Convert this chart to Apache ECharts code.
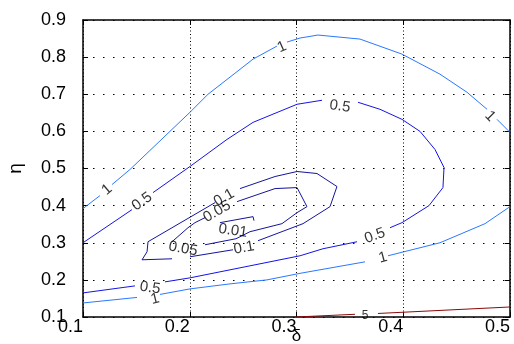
<!DOCTYPE html>
<html>
<head>
<meta charset="utf-8">
<script src="https://cdn.jsdelivr.net/npm/echarts@6/dist/echarts.min.js"></script>
<style>html,body{margin:0;padding:0;background:#fff;}#c{width:514px;height:344px;}</style>
</head>
<body>
<div id="c"></div>
<script>
// ---- tick labels ----
const xTickLabels = ['0.1', '0.2', '0.3', '0.4', '0.5'];
const yTickLabels = ['0.1', '0.2', '0.3', '0.4', '0.5', '0.6', '0.7', '0.8', '0.9'];
const xName = 'δ';
const yName = 'η';

// ---- contour levels (segments split where inline labels sit) ----
const level1Segments = [
  [[0.1, 0.392], [0.1159, 0.427]],
  [[0.1272, 0.4568], [0.144, 0.4973], [0.2002, 0.6514], [0.2171, 0.7], [0.2593, 0.7946], [0.2817, 0.8297]],
  [[0.2911, 0.8405], [0.3033, 0.8514], [0.3201, 0.8595], [0.3595, 0.8486], [0.3988, 0.8081], [0.4344, 0.7541], [0.4597, 0.7054], [0.4785, 0.6595]],
  [[0.4878, 0.6324], [0.5, 0.5973]],
  [[0.1, 0.1378], [0.1506, 0.1527]],
  [[0.1721, 0.1608], [0.2002, 0.1757], [0.2377, 0.1892], [0.2724, 0.2], [0.3033, 0.2176], [0.3642, 0.2486]],
  [[0.3857, 0.2649], [0.4344, 0.3], [0.4766, 0.3514], [0.5, 0.3973]]
];
const level05Segments = [
  [[0.1, 0.3], [0.1459, 0.3892]],
  [[0.1656, 0.4351], [0.2002, 0.5054], [0.2349, 0.5784], [0.2593, 0.6243], [0.2845, 0.6541], [0.3005, 0.673], [0.3239, 0.6838]],
  [[0.3576, 0.6784], [0.3782, 0.6595], [0.3988, 0.6324], [0.4157, 0.6], [0.4297, 0.5514], [0.4382, 0.5027], [0.4372, 0.4486], [0.4241, 0.4], [0.3988, 0.3541], [0.3876, 0.3405]],
  [[0.3567, 0.3027], [0.3248, 0.2838], [0.3033, 0.2649], [0.2564, 0.2378], [0.2283, 0.2216], [0.2002, 0.2054], [0.1768, 0.1946]],
  [[0.1487, 0.1838], [0.1, 0.1649]]
];
const level01Segments = [
  [[0.2471, 0.4459], [0.2799, 0.4784], [0.3005, 0.4919], [0.3192, 0.4865], [0.3379, 0.4514], [0.3314, 0.3973], [0.3061, 0.3514], [0.2639, 0.3054]],
  [[0.2405, 0.2811], [0.2002, 0.2622]],
  [[0.1834, 0.2568], [0.1553, 0.2541], [0.16, 0.2757], [0.1609, 0.3027], [0.2237, 0.4081]]
];
const level005Segments = [
  [[0.2443, 0.4108], [0.2799, 0.4459], [0.3005, 0.4486], [0.3098, 0.3973], [0.3005, 0.3811], [0.2864, 0.3514], [0.2564, 0.3297], [0.2433, 0.3108], [0.2143, 0.2946]],
  [[0.1834, 0.3027], [0.1984, 0.3405], [0.2049, 0.3541], [0.2143, 0.3676]]
];
const level001Segments = [
  [[0.2283, 0.3541], [0.2593, 0.3703], [0.2602, 0.3595]]
];
const level5Segments = [
  [[0.2995, 0.1], [0.3548, 0.1073]],
  [[0.3763, 0.1095], [0.5, 0.127]]
];

// ---- inline contour labels ----
const labelText  = ['1', '1', '1', '1', '1', '0.5', '0.5', '0.5', '0.5', '0.1', '0.1', '0.05', '0.05', '0.01', '5'];
const labelX     = [0.1225, 0.2864, 0.4813, 0.1674, 0.381, 0.1553, 0.3407, 0.3735, 0.1628, 0.2321, 0.2508, 0.2255, 0.1937, 0.2405, 0.3642];
const labelY     = [0.4432, 0.827, 0.6405, 0.1486, 0.2595, 0.4108, 0.6676, 0.3189, 0.1784, 0.4216, 0.2865, 0.3838, 0.2838, 0.3324, 0.1];
const labelAngle = [40, 24, -45, 14, 15, 36, -8, 20, -8, 30, 10, 30, -10, -8, 0];

const FONT = "'Liberation Sans',Arial,sans-serif";
const levelColors = { l1: '#2a78ff', l05: '#1414e6', l01: '#14149e', l005: '#14149a', l001: '#141496', l5: '#8a0a0a' };

const series = [];
function addSegs(segs, color) {
  segs.forEach(function (s) {
    series.push({ type: 'line', data: s, symbol: 'none', showSymbol: false, silent: true,
      lineStyle: { width: 1, color: color }, z: 3 });
  });
}
addSegs(level1Segments, levelColors.l1);
addSegs(level05Segments, levelColors.l05);
addSegs(level01Segments, levelColors.l01);
addSegs(level005Segments, levelColors.l005);
addSegs(level001Segments, levelColors.l001);
addSegs(level5Segments, levelColors.l5);

series.push({
  type: 'scatter', symbolSize: 0, clip: false, silent: true, z: 5,
  data: labelText.map(function (t, i) {
    const item = { name: t, value: [labelX[i], labelY[i]], label: { rotate: labelAngle[i] } };
    if (t === '5') { item.label.fontSize = 12; item.label.offset = [0, -1]; }
    return item;
  }),
  label: { show: true, position: 'inside', formatter: '{b}', color: '#000',
    fontFamily: FONT, fontSize: 15, textBorderWidth: 0 }
});

function fmt(arr) { return function (v) { return arr[Math.round((v - 0.1) / 0.1)] || ''; }; }

const axisBase = {
  type: 'value', min: 0.1, interval: 0.1,
  axisLine: { show: true, onZero: false, lineStyle: { color: '#000', width: 1.5 } },
  axisTick: { show: true, inside: true, length: 5, lineStyle: { color: '#000', width: 1 } }
};

const option = {
  animation: false,
  backgroundColor: '#fff',
  grid: { left: 83, right: 4, top: 20, bottom: 27, containLabel: false, outerBoundsMode: 'none' },
  xAxis: [
    Object.assign({}, axisBase, {
      max: 0.5, position: 'bottom',
      name: xName, nameLocation: 'middle', nameGap: 11, nameMoveOverlap: false,
      nameTextStyle: { fontFamily: FONT, fontSize: 17, color: '#000' },
      axisLabel: { show: true, formatter: fmt(xTickLabels), align: 'right', margin: 1,
        fontFamily: FONT, fontSize: 18, color: '#000' },
      splitLine: { show: true, lineStyle: { color: '#000', width: 1, type: [1, 2.5] } }
    }),
    Object.assign({}, axisBase, {
      max: 0.5, position: 'top', axisLabel: { show: false }, splitLine: { show: false }
    })
  ],
  yAxis: [
    Object.assign({}, axisBase, {
      max: 0.9, position: 'left',
      name: yName, nameLocation: 'middle', nameGap: 58, nameMoveOverlap: false,
      nameTextStyle: { fontFamily: FONT, fontSize: 19, color: '#000' },
      axisLabel: { show: true, formatter: fmt(yTickLabels), margin: 17,
        fontFamily: FONT, fontSize: 18, color: '#000' },
      splitLine: { show: true, lineStyle: { color: '#000', width: 1, type: [1.5, 8.5] } }
    }),
    Object.assign({}, axisBase, {
      max: 0.9, position: 'right', axisLabel: { show: false }, splitLine: { show: false }
    })
  ],
  series: series
};

const chart = echarts.init(document.getElementById('c'), null, { renderer: 'canvas' });
chart.setOption(option);
</script>
</body>
</html>
